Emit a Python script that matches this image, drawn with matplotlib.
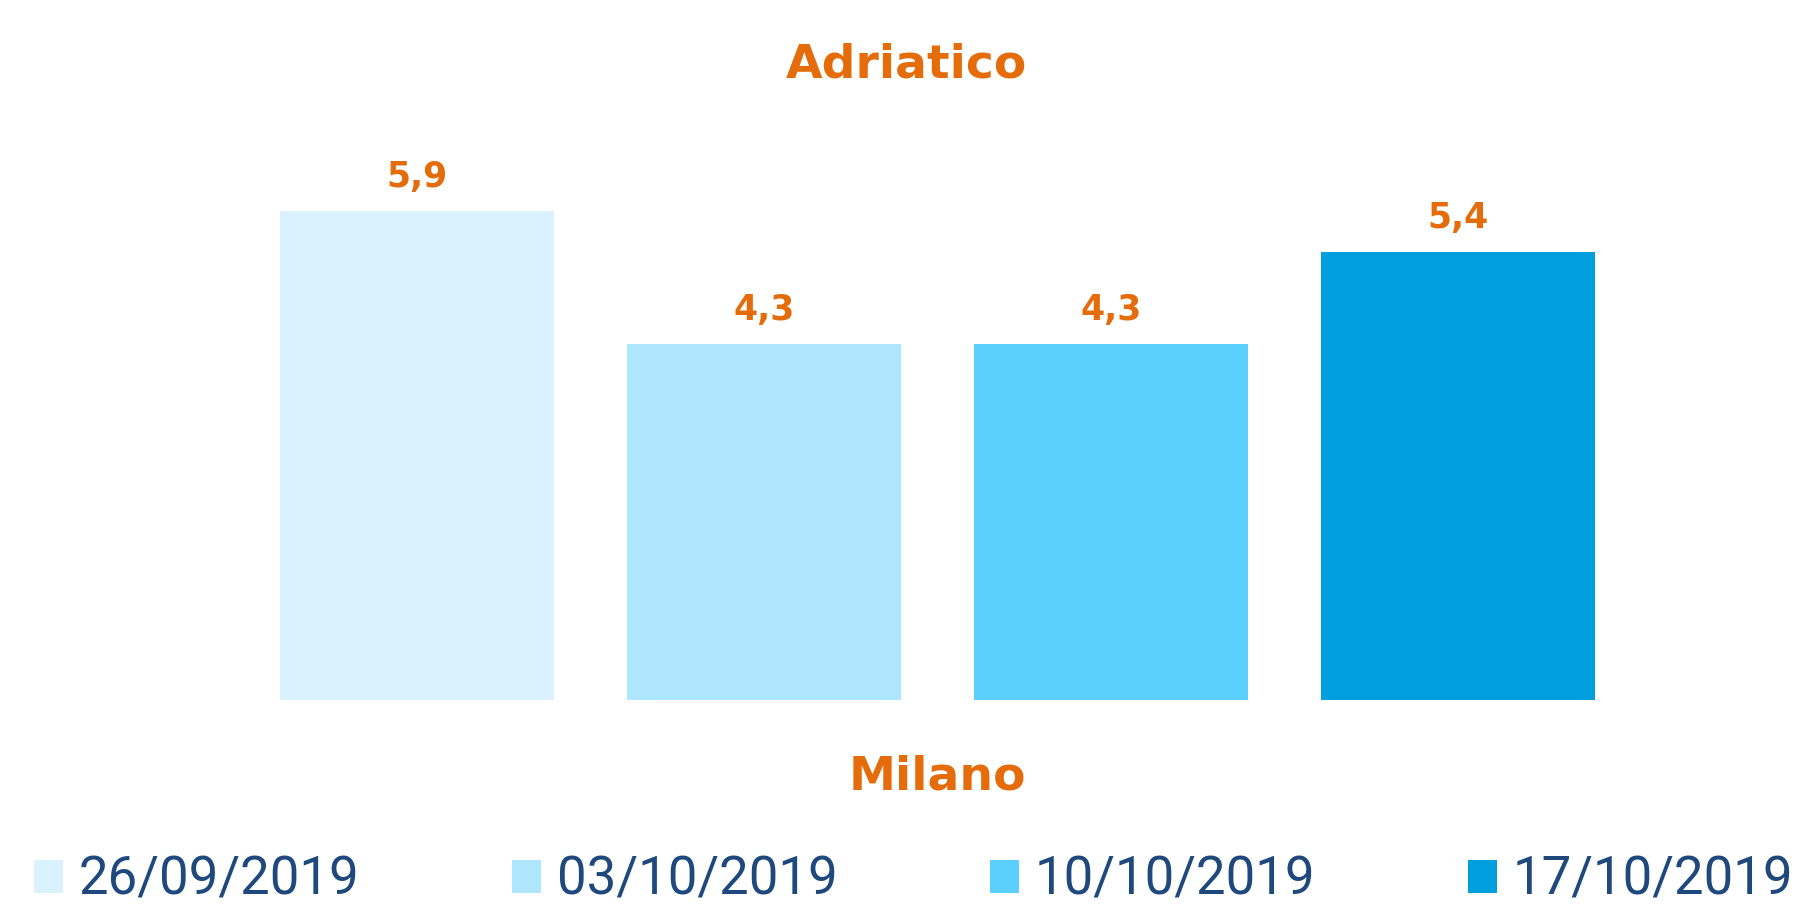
import matplotlib
matplotlib.use("Agg")
import matplotlib.pyplot as plt
from matplotlib.patches import Patch

# Data
categories = ["Milano"]
series_labels = ["26/09/2019", "03/10/2019", "10/10/2019", "17/10/2019"]
values = [5.9, 4.3, 4.3, 5.4]
value_labels = ["5,9", "4,3", "4,3", "5,4"]
colors = ["#DAF2FD", "#AEE6FD", "#5BCFFD", "#00A0DF"]
title = "Adriatico"

ORANGE = "#E46C0A"
NAVY = "#1F497D"

W, H = 1802, 906
fig = plt.figure(figsize=(W / 100, H / 100), dpi=100)

# axes in pixel geometry
px_left, px_right = 280, 1595
px_bottom = 700
ymax = 6.5
px_per_unit = 82.9
px_top = px_bottom - ymax * px_per_unit
ax = fig.add_axes([px_left / W, (H - px_bottom) / H,
                   (px_right - px_left) / W, (px_bottom - px_top) / H])

n = len(values)
bar_w = 275 / 347.5
xs = list(range(n))
bars = ax.bar(xs, values, width=bar_w, color=colors, edgecolor="none")
ax.set_xlim(-bar_w / 2, n - 1 + bar_w / 2)
ax.set_ylim(0, ymax)

for x, v, lab in zip(xs, values, value_labels):
    ax.annotate(lab, (x, v), xytext=(0, 17), textcoords="offset pixels",
                ha="center", va="bottom", color=ORANGE, fontsize=25,
                fontweight="bold", family="DejaVu Sans")

for s in ax.spines.values():
    s.set_visible(False)
ax.set_xticks([])
ax.set_yticks([])

# category label
ax.text(0.5, (px_bottom - 789) / (px_bottom - px_top), categories[0],
        transform=ax.transAxes, ha="center", va="baseline", color=ORANGE,
        fontsize=34, fontweight="bold", family="DejaVu Sans")

fig.text(906 / W, (H - 78) / H, title, ha="center", va="baseline", color=ORANGE,
         fontsize=34, fontweight="bold", family="DejaVu Sans")

handles = [Patch(facecolor=c, edgecolor="none") for c in colors]
leg = fig.legend(handles, series_labels, loc="lower left",
                 bbox_to_anchor=(34 / W, 0.0, (1793 - 34) / W, 50 / H),
                 mode="expand", ncol=4, frameon=False, borderpad=0,
                 borderaxespad=0,
                 prop={"family": "Roboto", "weight": "normal", "size": 38},
                 handlelength=0.55, handleheight=0.6, handletextpad=0.3)
for t in leg.get_texts():
    t.set_color(NAVY)

fig.savefig("out.png", dpi=100, facecolor="white")
